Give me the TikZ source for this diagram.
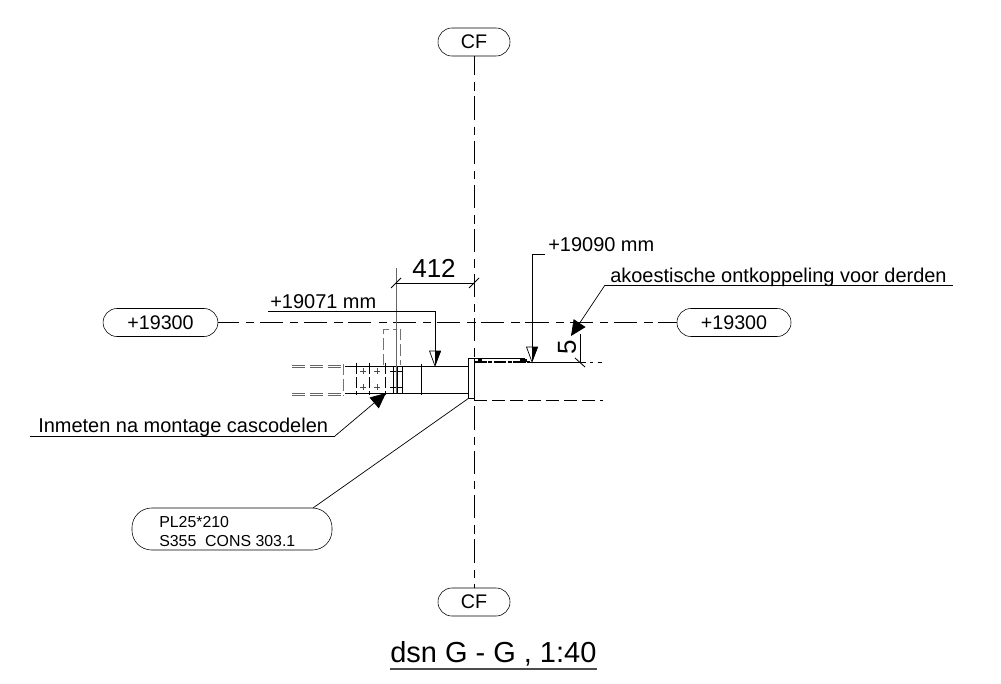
\documentclass[tikz,border=0pt]{standalone}
\usepackage{fontspec}
\setmainfont{Liberation Sans}
\usetikzlibrary{arrows.meta}
\tikzset{
  tag/.style={draw, rounded corners=9.9pt, minimum height=.7cm, inner sep=0pt, font=\fontsize{14}{15}\selectfont},
  txt/.style={anchor=base west, inner sep=0pt, font=\fontsize{14.2}{15}\selectfont},
  small/.style={anchor=base west, inner sep=0pt, font=\fontsize{11.3}{12}\selectfont},
  centerline/.style={dash pattern=on 16.5pt off 5pt on 6pt off 4pt, line width=.5pt},
  hidden/.style={dash pattern=on 9.5pt off 3.3pt, line width=.5pt},
  grayhidden/.style={dash pattern=on 8pt off 3pt, line width=.7pt, black!55},
  leader/.style={line width=.5pt, -{Triangle[length=11pt,width=10pt]}},
}
\newcommand{\halfhead}[2]{% tip at (#1,#2)
  \draw[line width=.5pt] (#1,#2) -- (#1-5.5,#2-15) -- (#1+5.5,#2-15) -- cycle;
  \fill (#1,#2) -- (#1,#2-15) -- (#1+6,#2-15) -- cycle;}
\begin{document}
\begin{tikzpicture}[x=.025cm, y=-.025cm]
      \useasboundingbox (0,0) rectangle (1001,684);
      % Tags:
      \node[tag, minimum width=1.8cm] (cftop) at (474,42) {CF};
      \node[tag, minimum width=1.8cm] (cfbot) at (474,602) {CF};
      \node[tag, minimum width=2.87cm] (levelleft) at (160.5,322.5) {+19300};
      \node[tag, minimum width=2.85cm] (levelright) at (734,322.5) {+19300};
      \node[draw, rounded corners=14pt, minimum width=5cm, minimum height=1.05cm, inner sep=0pt] (plate) at (232,529) {};
      \node[small] (platea) at (159,527) {PL25*210};
      \node[small] (plateb) at (159,546) {S355\ \ CONS 303.1};
      % Center lines:
      \draw[centerline, dash phase=3pt] (cftop) -- (cfbot);
      \draw[centerline, dash phase=2pt] (levelleft) -- (levelright);
      % Beam:
      \draw[line width=.6pt] (345,366) -- (468,366);
      \draw[line width=.6pt] (345,393) -- (468,393);
      \draw[line width=.6pt] (421,364) -- (421,395);
      \draw[line width=.7pt] (468,358) rectangle (474,398);
      \draw[line width=.6pt] (474,358) -- (525,358);
      \draw[line width=.8pt, dash pattern=on 9pt off 1pt on 3pt off 1pt] (474,362) -- (530,362);
      \fill (478,359) rectangle (482,362);
      \fill (520,359) rectangle (527,362);
      \draw[line width=.6pt, dash pattern=on 40pt off 3pt on 2pt off 3pt] (530,362) -- (602,362);
      \draw[hidden] (474,400) -- (603,400);
      % Left part:
      \foreach \y in {365,367,393,395} \draw[hidden, black!60, line width=.7pt] (292,\y) -- (343,\y);
      \draw[grayhidden] (343,364) -- (343,395);
      \foreach \x in {356,369,385} \draw[line width=.5pt, dash pattern=on 8pt off 2pt] (\x,363) -- (\x,395);
      \foreach \x in {393,397,402} \draw[line width=.6pt] (\x,366) -- (\x,393);
      \foreach \x in {363,377} \foreach \y in {371,387} {
        \draw[line width=.4pt, black!70] (\x-3,\y) -- (\x+3,\y);
        \draw[line width=.4pt, black!70] (\x,\y-3) -- (\x,\y+3);
      }
      \foreach \y in {371,387} \draw[line width=.6pt] (390,\y) -- (403,\y);
      \draw[grayhidden] (383,365) -- (383,329) -- (396,329);
      \draw[grayhidden] (400,329) -- (400,365);
      % Dimensions:
      \coordinate (dimleft) at (396,283);
      \coordinate (dimright) at (474,283);
      \draw[black!60, line width=.7pt] (396,268) -- (396,393);
      \draw[line width=.6pt] (dimleft) -- (dimright);
      \foreach \x in {396,474} \draw[line width=.6pt] (\x-5,288) -- (\x+5,278);
      \node[inner sep=0pt, font=\fontsize{18.5}{18}\selectfont] (dimwidth) at (434,268) {412};
      \coordinate (dimtop) at (580,334);
      \coordinate (dimbot) at (580,362);
      \draw[line width=.6pt] (dimtop) -- (dimbot);
      \draw[line width=.6pt] (575,358) -- (585,367);
      \node[inner sep=0pt, rotate=90, font=\fontsize{18.5}{18}\selectfont] (dimgap) at (567,347) {5};
      % Levels:
      \node[txt] (levela) at (270,308) {+19071 mm};
      \coordinate (levelaend) at (435,311);
      \draw[line width=.5pt] (268,311) -- (levelaend) -- (435,352);
      \halfhead{435}{366}
      \node[txt] (levelb) at (548,251) {+19090 mm};
      \coordinate (levelbend) at (532,254);
      \draw[line width=.5pt] (545,254) -- (levelbend) -- (532,348);
      \halfhead{532}{362}
      % Notes:
      \node[txt] (decouple) at (610,282) {akoestische ontkoppeling voor derden};
      \coordinate (decoupleend) at (605,285);
      \coordinate (decoupletip) at (571,336);
      \draw[line width=.5pt] (953,285) -- (decoupleend);
      \draw[leader] (decoupleend) -- (decoupletip);
      \node[txt] (measure) at (38,432) {Inmeten na montage cascodelen};
      \coordinate (measureend) at (335,436);
      \coordinate (measuretip) at (386,393);
      \draw[line width=.5pt] (30,436) -- (measureend);
      \draw[leader] (measureend) -- (measuretip);
      \coordinate (platetip) at (469,398);
      \coordinate (plateend) at (313,508);
      \draw[line width=.5pt] (plateend) -- (platetip);
      % Title:
      \node[inner sep=0pt, anchor=base west, font=\fontsize{20.6}{21}\selectfont] (title) at (390,662) {dsn G - G , 1:40};
      \draw[line width=.8pt, black!70] (title.base west |- 0,669) -- (597,669);
    \end{tikzpicture}
\end{document}
